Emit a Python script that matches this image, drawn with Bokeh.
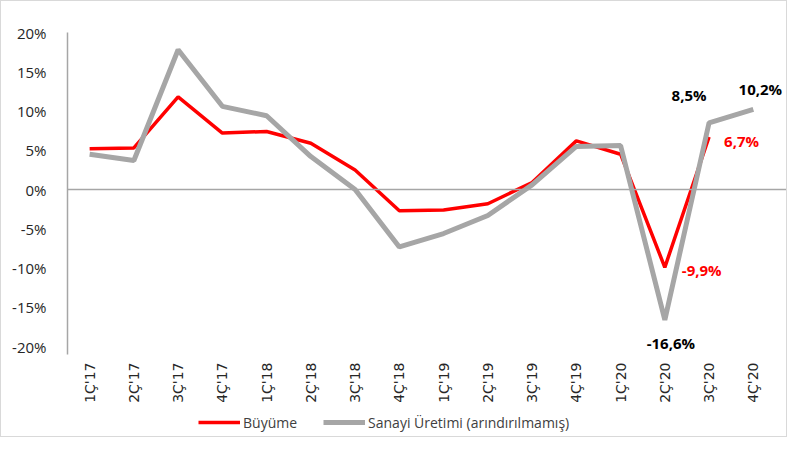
from bokeh.plotting import figure
from bokeh.layouts import column
from bokeh.models import FixedTicker, Span, Legend, LegendItem, ColumnDataSource, Label
from bokeh.embed import file_html
from bokeh.resources import INLINE

quarters = ["1Ç'17", "2Ç'17", "3Ç'17", "4Ç'17", "1Ç'18", "2Ç'18", "3Ç'18", "4Ç'18",
            "1Ç'19", "2Ç'19", "3Ç'19", "4Ç'19", "1Ç'20", "2Ç'20", "3Ç'20", "4Ç'20"]
buyume = [5.2, 5.3, 11.8, 7.2, 7.4, 5.9, 2.5, -2.7, -2.6, -1.8, 0.9, 6.2, 4.5, -9.9, 6.7]
sanayi = [4.5, 3.7, 17.8, 10.6, 9.4, 4.2, 0.0, -7.3, -5.6, -3.3, 0.6, 5.5, 5.6, -16.6, 8.5, 10.2]
y_ticks = [-20, -15, -10, -5, 0, 5, 10, 15, 20]
series_names = ["Büyüme", "Sanayi Üretimi (arındırılmamış)"]

FONT = "Open Sans"
RED = "#FF0000"
GREY = "#A6A6A6"

xi = list(range(len(quarters)))

p = figure(x_range=(-0.5, len(quarters) - 0.25), y_range=(-21, 20), width=785, height=404,
           output_backend="svg", toolbar_location=None,
           min_border_left=66, min_border_right=0, min_border_top=31, min_border_bottom=46)
p.outline_line_color = None
p.xgrid.visible = False
p.ygrid.visible = False

p.yaxis.ticker = FixedTicker(ticks=y_ticks)
p.yaxis.major_label_overrides = {t: f"{t}%" for t in y_ticks}
p.yaxis.major_tick_line_color = None
p.yaxis.minor_tick_line_color = None
p.yaxis.axis_line_color = GREY
p.yaxis.axis_line_width = 1.5
p.yaxis.major_label_text_font = FONT
p.yaxis.major_label_text_font_size = "15px"
p.yaxis.major_label_text_color = "#262626"
p.yaxis.major_label_standoff = 15

p.xaxis.ticker = FixedTicker(ticks=xi)
p.xaxis.major_label_overrides = {i: q for i, q in zip(xi, quarters)}
p.xaxis.axis_line_color = None
p.xaxis.major_tick_line_color = None
p.xaxis.minor_tick_line_color = None
p.xaxis.major_label_orientation = 1.5708
p.xaxis.major_label_text_font = "DejaVu Sans"
p.xaxis.major_label_text_font_size = "14px"
p.xaxis.major_label_text_color = "#262626"
p.xaxis.major_label_standoff = 2

p.add_layout(Span(location=0, dimension="width", line_color=GREY, line_width=1.5))

src_b = ColumnDataSource(dict(x=xi[:len(buyume)], y=buyume))
src_s = ColumnDataSource(dict(x=xi[:len(sanayi)], y=sanayi))
p.line("x", "y", source=src_b, line_color=RED, line_width=3.5)
p.line("x", "y", source=src_s, line_color=GREY, line_width=5)

# data labels
labels = [
    (14, sanayi[14], "8,5%", "black", -20, 18, "center", "bottom"),
    (15, sanayi[15], "10,2%", "black", 7, 10, "center", "bottom"),
    (14, buyume[14], "6,7%", RED, 15, -4, "left", "middle"),
    (13, buyume[13], "-9,9%", RED, 17, -3, "left", "middle"),
    (13, sanayi[13], "-16,6%", "black", 6, -13, "center", "top"),
]
for i, y, t, c, xo, yo, al, bl in labels:
    p.add_layout(Label(x=i, y=y, text=t, text_color=c, text_font=FONT,
                       text_font_size="15px", text_font_style="bold",
                       x_offset=xo, y_offset=yo, text_align=al, text_baseline=bl))

# legend strip (series drawn out of view; only their legend glyphs show)
q = figure(width=785, height=31, output_backend="svg", toolbar_location=None,
           min_border=0, x_range=(-0.5, len(quarters) - 0.25), y_range=(1000, 1001))
q.axis.visible = False
q.grid.visible = False
q.outline_line_color = None
lb = q.line(x=xi[:len(buyume)], y=buyume, line_color=RED, line_width=3.5)
ls = q.line(x=xi[:len(sanayi)], y=sanayi, line_color=GREY, line_width=5)
legend = Legend(items=[LegendItem(label=series_names[0], renderers=[lb]),
                       LegendItem(label=series_names[1], renderers=[ls])],
                orientation="horizontal", location=(131, 4),
                label_text_font=FONT, label_text_font_size="14px", label_text_color="#404040",
                border_line_color=None, background_fill_alpha=0,
                glyph_width=42, spacing=26, label_standoff=3, padding=4, margin=0)
q.add_layout(legend, "center")

layout = column(p, q, spacing=0, styles={"border": "1px solid #D9D9D9"})

open("out.html", "w").write(file_html(layout, INLINE))
